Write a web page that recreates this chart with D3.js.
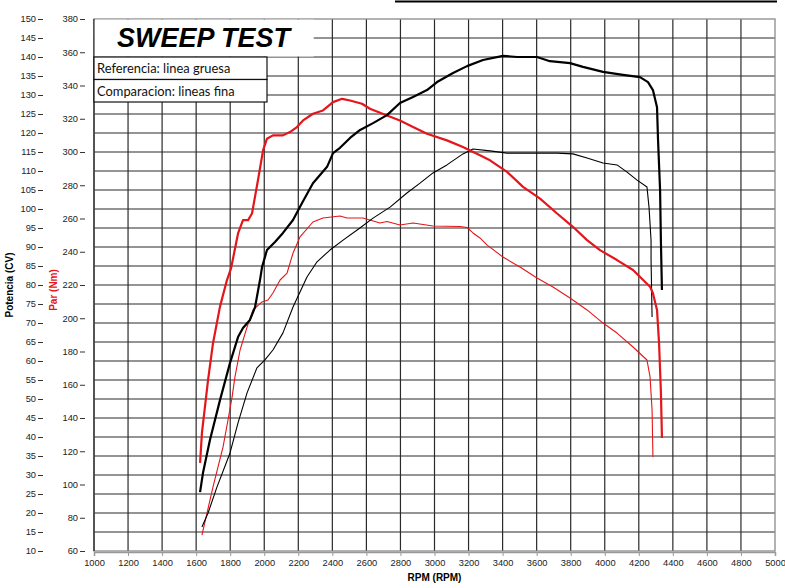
<!DOCTYPE html>
<html>
<head>
<meta charset="utf-8">
<script src="https://cdn.jsdelivr.net/npm/d3@7"></script>
<style>
    body { margin: 0; background: #fff; }
    svg { display: block; }
    .tick text { font-family: "Liberation Sans", Arial, sans-serif; font-size: 9.3px; fill: #222; }
</style>
</head>
<body>
<svg id="chart" width="785" height="588"></svg>
<script>
// rpm / value pairs
const refTorque = [
    [1623, 113], [1634, 131], [1670, 163], [1699, 185], [1740, 207], [1781, 223],
    [1805, 230], [1846, 251], [1875, 259], [1905, 259], [1928, 263], [1963, 283],
    [1993, 301], [2016, 308], [2051, 310], [2110, 310], [2151, 312], [2192, 315],
    [2228, 319], [2286, 323], [2345, 325], [2404, 330], [2457, 332], [2504, 331],
    [2574, 329], [2621, 326], [2721, 322], [2797, 319], [2874, 315], [2956, 311],
    [3073, 307], [3167, 303], [3267, 298], [3326, 295], [3426, 288], [3520, 279],
    [3620, 272], [3720, 263], [3813, 255], [3896, 247], [3972, 241], [4072, 235],
    [4166, 229], [4266, 219], [4283, 215], [4307, 205], [4319, 185], [4330, 155],
    [4336, 128]
];
const refPower = [
    [1623, 25.5], [1640, 30.5], [1681, 39.2], [1740, 49.7], [1799, 59.5], [1846, 66.3],
    [1875, 68.7], [1916, 70.8], [1946, 74.2], [1975, 81.3], [1987, 84.7], [2016, 89.2],
    [2063, 91.3], [2110, 93.7], [2169, 97.1], [2222, 101.6], [2286, 106.8], [2369, 111.1],
    [2404, 114.7], [2445, 116.1], [2504, 118.7], [2563, 120.8], [2639, 122.6], [2721, 124.7],
    [2797, 127.9], [2874, 129.5], [2956, 131.3], [3015, 133.4], [3109, 135.8], [3191, 137.6],
    [3285, 139.2], [3402, 140.3], [3485, 140.0], [3602, 140.0], [3678, 138.9], [3796, 138.4],
    [3872, 137.4], [3990, 136.1], [4107, 135.3], [4207, 134.7], [4254, 133.4], [4283, 131.3],
    [4307, 126.8], [4313, 118.2], [4325, 105.0], [4330, 91.1], [4336, 78.7]
];
const cmpTorque = [
    [1634, 69.6], [1664, 82.9], [1699, 98.5], [1758, 122.6], [1787, 138.8], [1811, 152.6],
    [1828, 164.7], [1858, 180.9], [1899, 194.7], [1934, 205.0], [1987, 209.8], [2022, 211.0],
    [2051, 215.2], [2093, 223.0], [2134, 227.2], [2169, 239.2], [2210, 248.9], [2286, 257.9],
    [2345, 260.3], [2445, 261.5], [2486, 260.3], [2580, 260.3], [2680, 257.3], [2721, 258.2],
    [2797, 256.1], [2874, 257.3], [2991, 255.5], [3150, 255.2], [3191, 254.6], [3226, 251.3],
    [3267, 248.3], [3308, 244.1], [3402, 236.8], [3502, 230.8], [3602, 224.2], [3696, 218.8],
    [3796, 212.2], [3896, 205.0], [3990, 197.1], [4072, 191.1], [4166, 182.7], [4248, 174.9],
    [4266, 164.7], [4278, 144.8], [4283, 116.5]
];
const cmpPower = [
    [1634, 16.3], [1670, 20.0], [1722, 26.8], [1799, 35.8], [1846, 43.7], [1899, 51.6],
    [1957, 58.2], [2004, 60.3], [2051, 62.9], [2110, 67.4], [2169, 74.2], [2251, 82.1],
    [2310, 86.1], [2386, 89.2], [2463, 91.8], [2562, 95.0], [2639, 97.6], [2739, 100.5],
    [2838, 104.2], [2915, 106.8], [2991, 109.5], [3073, 111.6], [3167, 114.5], [3226, 115.8],
    [3326, 115.3], [3426, 114.7], [3620, 114.7], [3720, 114.7], [3813, 114.5], [3896, 113.4],
    [3990, 112.1], [4072, 111.6], [4131, 109.7], [4190, 107.6], [4248, 105.8], [4260, 100.5],
    [4272, 91.8], [4272, 86.6], [4278, 71.6]
];

const rpmTicks = d3.range(1000, 5001, 200);
const cvTicks = d3.range(10, 151, 5);
const nmTicks = d3.range(60, 381, 20);
const titleText = "SWEEP TEST";
const legendLines = ["Referencia: linea gruesa", "Comparacion: lineas fina"];

const plot = { left: 94, right: 775, top: 19, bottom: 551 };
const RED = "#e4161b";

const svg = d3.select("#chart");

const x = d3.scaleLinear().domain([1000, 5000]).range([plot.left, plot.right]);
const yCV = d3.scaleLinear().domain([10, 150]).range([plot.bottom, plot.top]);
const yNm = d3.scaleLinear().domain([60, 380]).range([plot.bottom, plot.top]);

// header rule at the very top
svg.append("line")
    .attr("x1", 395).attr("x2", 777)
    .attr("y1", 1.5).attr("y2", 1.5)
    .attr("stroke", "#000").attr("stroke-width", 2);

// grid
const grid = svg.append("g").attr("stroke", "#2a2a2a").attr("stroke-width", 1.2);
grid.selectAll(".v").data(rpmTicks.slice(1, -1)).join("line")
    .attr("x1", d => x(d)).attr("x2", d => x(d))
    .attr("y1", plot.top).attr("y2", plot.bottom);
grid.selectAll(".h").data(cvTicks.slice(1, -1)).join("line")
    .attr("x1", plot.left).attr("x2", plot.right)
    .attr("y1", d => yCV(d)).attr("y2", d => yCV(d));

// frame
svg.append("rect")
    .attr("x", plot.left).attr("y", plot.top)
    .attr("width", plot.right - plot.left).attr("height", plot.bottom - plot.top)
    .attr("fill", "none").attr("stroke", "#8a8a8a").attr("stroke-width", 1.3);
svg.append("line")
    .attr("x1", plot.left).attr("x2", plot.left)
    .attr("y1", plot.top).attr("y2", plot.bottom)
    .attr("stroke", "#222").attr("stroke-width", 1.3);

// curves
const lineCV = d3.line().x(d => x(d[0])).y(d => yCV(d[1]));
const lineNm = d3.line().x(d => x(d[0])).y(d => yNm(d[1]));

const curves = svg.append("g").attr("fill", "none").attr("stroke-linejoin", "round");
curves.append("path").attr("d", lineNm(cmpTorque))
    .attr("stroke", RED).attr("stroke-width", 1.1);
curves.append("path").attr("d", lineCV(cmpPower))
    .attr("stroke", "#000").attr("stroke-width", 1.1);
curves.append("path").attr("d", lineNm(refTorque))
    .attr("stroke", RED).attr("stroke-width", 2.2);
curves.append("path").attr("d", lineCV(refPower))
    .attr("stroke", "#000").attr("stroke-width", 2.2);

// title box
svg.append("rect")
    .attr("x", plot.left + 0.7).attr("y", plot.top + 0.7)
    .attr("width", 313 - plot.left).attr("height", 56.5 - plot.top - 0.7)
    .attr("fill", "#fff");
svg.append("text")
    .attr("x", 117).attr("y", 47)
    .attr("font-family", "Liberation Sans, Arial, sans-serif")
    .attr("font-size", 27).attr("font-weight", "bold").attr("font-style", "italic")
    .attr("fill", "#000")
    .text(titleText);

// legend boxes
const legend = svg.append("g");
legendLines.forEach((t, i) => {
    const top = 57 + i * 22.5;
    legend.append("rect")
        .attr("x", plot.left).attr("y", top)
        .attr("width", 267 - plot.left).attr("height", 22.5)
        .attr("fill", "#fff").attr("stroke", "#111").attr("stroke-width", 1.2);
    legend.append("text")
        .attr("x", 97).attr("y", top + 16)
        .attr("font-family", "Lato, 'Open Sans', sans-serif")
        .attr("font-size", 12.9)
        .attr("fill", "#111")
        .text(t);
});

// axes
const axCV = svg.append("g").attr("transform", "translate(43,0)")
    .call(d3.axisLeft(yCV).tickValues(cvTicks).tickSize(5).tickPadding(2));
const axNm = svg.append("g").attr("transform", "translate(85,0)")
    .call(d3.axisLeft(yNm).tickValues(nmTicks).tickSize(5).tickPadding(2));
const axX = svg.append("g").attr("transform", `translate(0,${plot.bottom + 1})`)
    .call(d3.axisBottom(x).tickValues(rpmTicks).tickFormat(d3.format("d"))
        .tickSize(4).tickPadding(3));

[axCV, axNm].forEach(a => {
    a.select(".domain").remove();
    a.selectAll(".tick line").attr("stroke", "#333");
});
axX.select(".domain").attr("stroke", "#999").attr("stroke-width", 1.5);
axX.selectAll(".tick line").attr("stroke", "#999");

// axis titles
svg.append("text")
    .attr("x", plot.left + (plot.right - plot.left) / 2).attr("y", 581)
    .attr("text-anchor", "middle")
    .attr("font-family", "Liberation Sans, Arial, sans-serif")
    .attr("font-size", 10).attr("font-weight", "bold")
    .text("RPM (RPM)");
svg.append("text")
    .attr("transform", "translate(13,285) rotate(-90)")
    .attr("text-anchor", "middle")
    .attr("font-family", "Liberation Sans, Arial, sans-serif")
    .attr("font-size", 10).attr("font-weight", "bold")
    .text("Potencia (CV)");
svg.append("text")
    .attr("transform", "translate(57,290) rotate(-90)")
    .attr("text-anchor", "middle")
    .attr("font-family", "Liberation Sans, Arial, sans-serif")
    .attr("font-size", 10).attr("font-weight", "bold")
    .attr("fill", RED)
    .text("Par (Nm)");
</script>
</body>
</html>
